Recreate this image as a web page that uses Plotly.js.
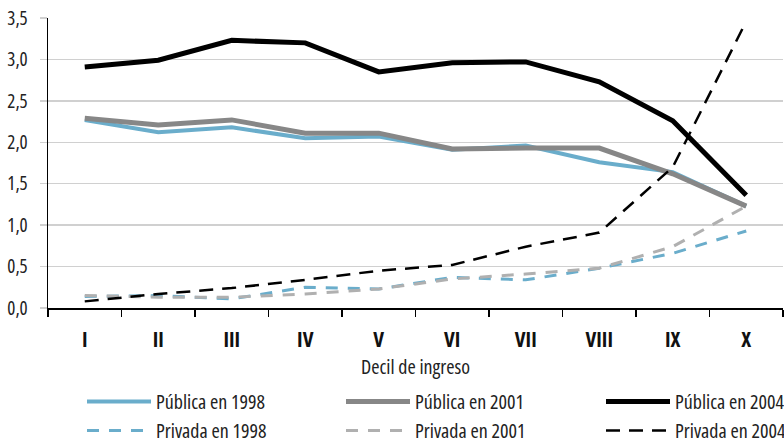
<!DOCTYPE html>
<html>
<head>
<meta charset="utf-8">
<script src="https://cdn.plot.ly/plotly-3.0.1.min.js"></script>
<style>
html,body{margin:0;padding:0;background:#fff;}
#chart{width:784px;height:440px;}
svg text{font-stretch:75% !important;}
</style>
</head>
<body>
<div id="chart"></div>
<script>
const deciles = ["I","II","III","IV","V","VI","VII","VIII","IX","X"];
const publica1998 = [2.27, 2.12, 2.18, 2.05, 2.07, 1.91, 1.96, 1.76, 1.64, 1.23];
const publica2001 = [2.29, 2.21, 2.27, 2.11, 2.11, 1.92, 1.93, 1.93, 1.62, 1.23];
const publica2004 = [2.91, 2.99, 3.23, 3.20, 2.85, 2.96, 2.97, 2.73, 2.26, 1.36];
const privada1998 = [0.14, 0.15, 0.11, 0.25, 0.23, 0.37, 0.34, 0.48, 0.66, 0.93];
const privada2001 = [0.15, 0.13, 0.13, 0.17, 0.23, 0.35, 0.41, 0.48, 0.74, 1.23];
const privada2004 = [0.08, 0.17, 0.24, 0.34, 0.45, 0.52, 0.74, 0.91, 1.70, 3.46];
const names = ["Pública en 1998","Pública en 2001","Pública en 2004","Privada en 1998","Privada en 2001","Privada en 2004"];

const FONT = '"Open Sans", "Roboto", sans-serif';
const blue = '#6aadcb', dgray = '#878787', lgray = '#b0b0b0';

const traces = [
  {y: publica1998, name: names[0], line:{color: blue, width: 4}, legend:'legend'},
  {y: publica2001, name: names[1], line:{color: dgray, width: 5}, legend:'legend2'},
  {y: publica2004, name: names[2], line:{color: '#000', width: 5}, legend:'legend3'},
  {y: privada1998, name: names[3], line:{color: blue, width: 3, dash:'12px,10px'}, legend:'legend'},
  {y: privada2001, name: names[4], line:{color: lgray, width: 3, dash:'12px,10px'}, legend:'legend2'},
  {y: privada2004, name: names[5], line:{color: '#000', width: 2.5, dash:'14px,9px'}, legend:'legend3'}
].map(t => Object.assign({x: deciles, type:'scatter', mode:'lines'}, t));

const legendCommon = {
  orientation:'v', xref:'container', yref:'container', xanchor:'left', yanchor:'middle',
  traceorder:'normal', y: 1 - 416/440,
  font:{family: FONT, size: 20, color:'#222'}, bgcolor:'rgba(0,0,0,0)', itemwidth: 64
};

const layout = {
  width: 784, height: 440,
  margin:{l:48, r:1, t:18, b:132, autoexpand:false},
  paper_bgcolor:'#fff', plot_bgcolor:'#fff',
  separators: ',.',
  font:{family: FONT, size: 19, color:'#222'},
  showlegend: true,
  legend: Object.assign({}, legendCommon, {x: 82/784}),
  legend2: Object.assign({}, legendCommon, {x: 341/784}),
  legend3: Object.assign({}, legendCommon, {x: 601/784}),
  xaxis:{
    type:'category', range:[-0.5, 9.5],
    showline:true, linecolor:'#000', linewidth:1.5,
    ticks:'outside', tickson:'boundaries', ticklen:7, tickcolor:'#000', tickwidth:1.5,
    showgrid:false, zeroline:false, automargin:false,
    tickfont:{family: FONT, size: 21, weight: 'bold', color:'#111'},
    ticklabelstandoff: 12,
    title:{text:'Decil de ingreso', font:{family: FONT, size: 20, color:'#222'}, standoff: 8}
  },
  yaxis:{
    range:[0, 3.5], dtick:0.5, tick0:0, tickformat:'.1f',
    showline:true, linecolor:'#000', linewidth:1.5,
    showgrid:true, gridcolor:'#d0d0d0', gridwidth:1.5,
    ticks:'outside', ticklen:7, tickcolor:'#d0d0d0', tickwidth:1.5,
    zeroline:false, automargin:false,
    tickfont:{family: FONT, size: 19, color:'#222'},
    ticklabelstandoff: 8
  }
};

Plotly.newPlot('chart', traces, layout, {displayModeBar:false, staticPlot:true});
</script>
</body>
</html>
